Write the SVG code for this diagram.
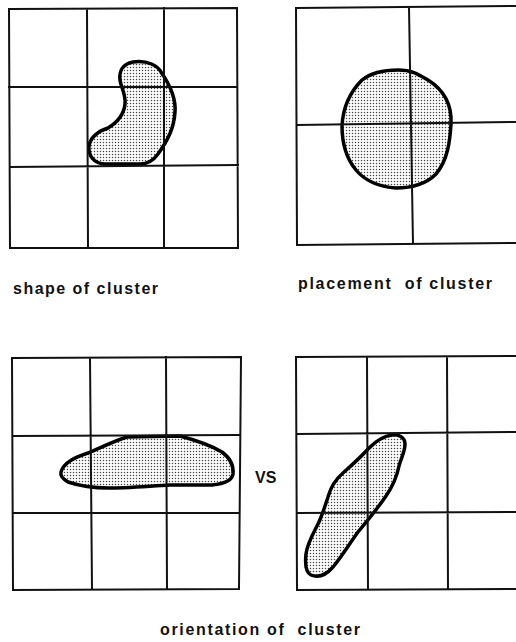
<svg xmlns="http://www.w3.org/2000/svg" width="516" height="642" viewBox="0 0 516 642">
<style>
.grid{fill:none;stroke:#111;stroke-width:2;stroke-linecap:square}
.blob{fill:url(#dots);stroke:#000;stroke-width:3.5;stroke-linejoin:round}
.lbl{font-family:"Liberation Sans",Arial,sans-serif;font-weight:bold;font-size:16px;fill:#111}
</style>
<defs>
<pattern id="dots" width="3" height="3" patternUnits="userSpaceOnUse">
<rect width="3" height="3" fill="#fff"/>
<circle cx="1.5" cy="1.5" r="0.75" fill="#444"/>
</pattern>
</defs>
<rect width="516" height="642" fill="#fff"/>
<g id="panel-shape">
<path class="blob" d="M133 62 C148 60 158 66 161 72 C170 85 176 100 175 112 C174 128 168 140 158 154 C153 161 146 164 140 164 L104 164 C94 163 88 156 89 146 C90 138 98 131 108 128 C118 122 124 114 125 104 C126 94 121 88 120 80 C119 72 122 64 133 62 Z"/>
<path class="grid" d="M9 9 L237 8 L238 248 L10 248 Z M87 9 L88 248 M164 8 L164 247 M9 87 L237 87 M10 167 L238 165"/>
</g>
<g id="panel-placement">
<path class="blob" d="M398 70 C412 70 418 74 428 80 C444 90 452 104 451 124 C450 140 448 160 436 174 C426 184 412 188 396 188 C382 187 366 182 356 170 C346 158 342 144 342 126 C343 106 350 92 362 80 C372 72 384 70 398 70 Z"/>
<path class="grid" d="M296 8 L516 6 M296 8 L297 245 L516 243 M409 7 L413 244 M297 125 L516 122"/>
</g>
<g id="panel-orientation-h">
<path class="blob" d="M61 472 C64 462 76 457 88 453 C100 448 114 441 127 437 L180 436 C195 440 212 446 222 452 C230 458 234 465 233 474 C232 481 222 484 212 485 L170 485 C150 486 125 488 108 488 C94 488 80 486 68 482 C63 479 60 476 61 472 Z"/>
<path class="grid" d="M12 358 L241 357 L239 589 L13 590 Z M90 358 L92 589 M166 357 L167 588 M13 436 L239 435 M13 513 L239 513"/>
</g>
<g id="panel-orientation-d">
<path class="blob" d="M392 435 C398 434 405 437 405 444 C405 452 401 458 399 466 C397 476 393 486 386 496 C378 508 368 520 358 532 C350 543 342 556 333 567 C326 575 318 578 311 575 C305 572 305 563 306 554 C307 544 313 534 318 524 C322 516 325 506 328 497 C331 486 336 479 343 473 C352 465 361 457 369 448 C377 440 384 436 392 435 Z"/>
<path class="grid" d="M296 357 L516 356 M296 357 L297 590 L516 589 M367 358 L368 589 M447 357 L448 589 M297 434 L516 432 M297 513 L516 512"/>
</g>
<g id="labels">
<text class="lbl" x="13" y="294" textLength="145" lengthAdjust="spacing">shape of cluster</text>
<text class="lbl" x="298" y="289" textLength="194" lengthAdjust="spacing" xml:space="preserve">placement  of cluster</text>
<text class="lbl" x="255" y="483" font-size="15">VS</text>
<text class="lbl" x="160" y="635" textLength="200" lengthAdjust="spacing" xml:space="preserve">orientation of  cluster</text>
</g>
</svg>
